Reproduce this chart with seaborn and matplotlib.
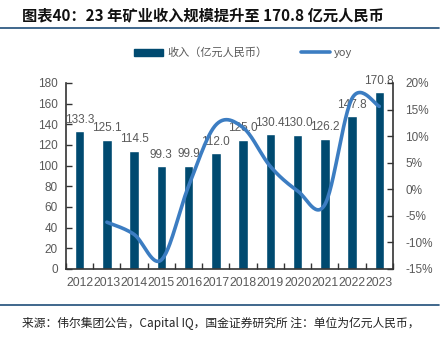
import numpy as np
import pandas as pd
import matplotlib
matplotlib.use("Agg")
import matplotlib.pyplot as plt
import seaborn as sns
from matplotlib.lines import Line2D
from matplotlib.patches import Patch

years = ["2012", "2013", "2014", "2015", "2016", "2017",
         "2018", "2019", "2020", "2021", "2022", "2023"]
revenue = [133.3, 125.1, 114.5, 99.3, 99.9, 112.0,
           125.0, 130.4, 130.0, 126.2, 147.8, 170.8]
yoy_years = years[1:]
yoy = [-6.2, -8.5, -13.3, 0.6, 12.1, 11.6, 4.3, -0.3, -2.9, 17.1, 15.6]

title = "图表40：23 年矿业收入规模提升至 170.8 亿元人民币"
source = "来源：伟尔集团公告，Capital IQ，国金证券研究所 注：单位为亿元人民币，"
bar_label = "收入（亿元人民币）"
line_label = "yoy"

BAR = "#004a70"
LINE = "#3c7dc2"
GRAY = "#595959"
RULE = "#1f4e79"

sns.set_theme(style="white")
plt.rcParams["font.family"] = ["Liberation Sans", "Noto Sans CJK SC", "DejaVu Sans"]
plt.rcParams["axes.unicode_minus"] = False

fig = plt.figure(figsize=(4.46, 3.40), dpi=100)
ax = fig.add_axes([0.148, 0.209, 0.733, 0.547])

df = pd.DataFrame({"year": years, "revenue": revenue})
sns.barplot(data=df, x="year", y="revenue", color=BAR, width=0.35,
            saturation=1, ax=ax)
ax.set_xlim(-0.5, len(years) - 0.5)
ax.set_ylim(0, 180)
ax.set_yticks(np.arange(0, 181, 20))
ax.set_xlabel("")
ax.set_ylabel("")

for i, v in enumerate(revenue):
    ax.annotate(f"{v:.1f}", (i, v), xytext=(0, 4), textcoords="offset points",
                ha="center", va="bottom", fontsize=8.5, color=GRAY)

# smoothed yoy curve (Bezier smoothing between the yearly points)
xp = np.array([years.index(y) for y in yoy_years], dtype=float)
yp = np.array(yoy, dtype=float)
sx, sy = [], []
n = len(xp)
for k in range(n - 1):
    p0 = np.array([xp[max(k - 1, 0)], yp[max(k - 1, 0)]])
    p1 = np.array([xp[k], yp[k]])
    p2 = np.array([xp[k + 1], yp[k + 1]])
    p3 = np.array([xp[min(k + 2, n - 1)], yp[min(k + 2, n - 1)]])
    c1 = p1 + (p2 - p0) / 6.0
    c2 = p2 - (p3 - p1) / 6.0
    t = np.linspace(0, 1, 30)[:, None]
    pts = ((1 - t) ** 3) * p1 + 3 * ((1 - t) ** 2) * t * c1 + 3 * (1 - t) * t ** 2 * c2 + t ** 3 * p2
    sx.extend(pts[:, 0])
    sy.extend(pts[:, 1])
curve = pd.DataFrame({"x": sx, "y": sy})

ax2 = ax.twinx()
sns.lineplot(data=curve, x="x", y="y", sort=False, estimator=None,
             color=LINE, linewidth=2.6, ax=ax2)
ax2.set_ylim(-15, 20)
ax2.set_yticks(np.arange(-15, 21, 5))
ax2.set_yticklabels([f"{v}%" for v in range(-15, 21, 5)])
ax2.set_xlim(-0.5, len(years) - 0.5)
ax2.set_xlabel("")
ax2.set_ylabel("")

for a in (ax, ax2):
    a.grid(False)
    for s in a.spines.values():
        s.set_visible(False)
ax.spines["left"].set_visible(True)
ax.spines["bottom"].set_visible(True)
ax2.spines["right"].set_visible(True)
for s in (ax.spines["left"], ax.spines["bottom"], ax2.spines["right"]):
    s.set_color("#333333")
    s.set_linewidth(1.2)

ax.tick_params(axis="y", direction="in", length=4, width=1, colors="#333333",
               labelcolor=GRAY, labelsize=8.5, left=True, pad=6)
ax2.tick_params(axis="y", direction="in", length=4, width=1, colors="#333333",
                labelcolor=GRAY, labelsize=8.5, right=True, pad=9)
ax.set_xticks(range(len(years)))
ax.set_xticklabels(years)
ax.set_xticks(np.arange(-0.5, len(years), 1), minor=True)
ax.tick_params(axis="x", which="major", length=0, labelcolor=GRAY,
               labelsize=8.8, pad=6)
ax.tick_params(axis="x", which="minor", direction="in", length=4, width=1,
               colors="#333333", bottom=True)

handles = [Patch(facecolor=BAR, edgecolor=BAR),
           Line2D([0], [0], color=LINE, linewidth=2.6)]
leg = fig.legend(handles, [bar_label, line_label], loc="center",
                 bbox_to_anchor=(0.545, 0.845), ncol=2, frameon=False,
                 fontsize=8, handlelength=2.6, handleheight=0.6,
                 columnspacing=3.0, handletextpad=0.4)
for txt in leg.get_texts():
    txt.set_color(GRAY)
    txt.set_family(["Noto Sans CJK SC", "Liberation Sans"])

fig.text(0.05, 0.955, title, fontsize=11, fontweight="bold",
         color="#111111", ha="left", va="center",
         family=["Noto Sans CJK SC", "Liberation Sans"])
fig.add_artist(Line2D([0.0, 0.985], [0.918, 0.918], color=RULE, linewidth=1.2))
fig.add_artist(Line2D([0.0, 0.985], [0.102, 0.102], color=RULE, linewidth=1.2))
fig.text(0.05, 0.05, source, fontsize=8.5, color="#222222", ha="left",
         va="center", family=["Noto Sans CJK SC", "Liberation Sans"])

fig.savefig("out.png", dpi=100)
